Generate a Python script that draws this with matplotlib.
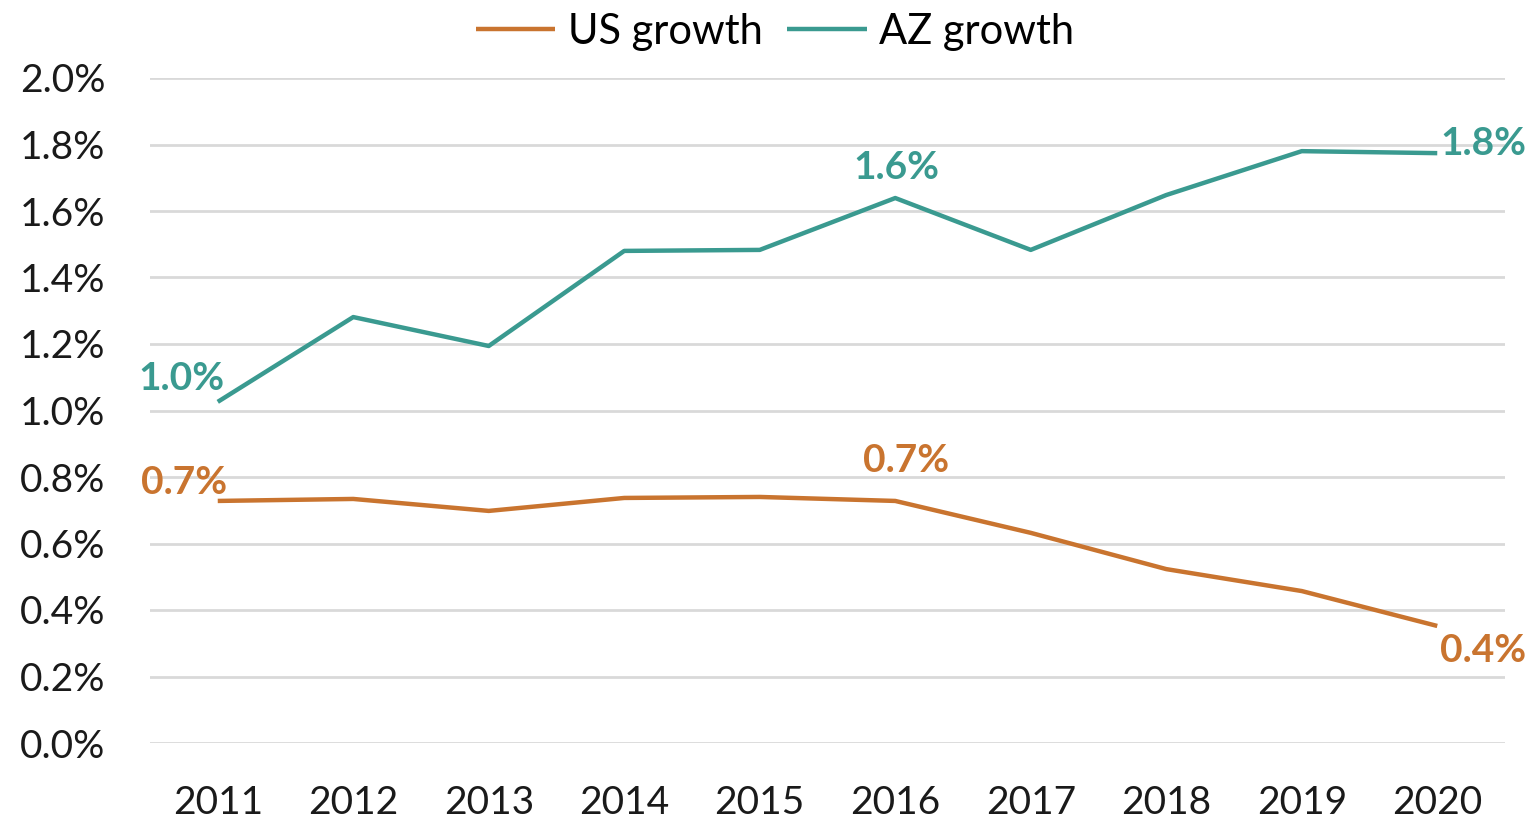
import matplotlib.pyplot as plt
import numpy as np

# data (percent)
years = ['2011', '2012', '2013', '2014', '2015', '2016', '2017', '2018', '2019', '2020']
us_growth = [0.728, 0.734, 0.698, 0.737, 0.740, 0.728, 0.632, 0.523, 0.457, 0.352]
az_growth = [1.026, 1.281, 1.194, 1.480, 1.483, 1.639, 1.483, 1.648, 1.780, 1.774]

us_color = '#C9742F'
az_color = '#3A9A90'

plt.rcParams['font.family'] = ['Lato', 'DejaVu Sans']

fig = plt.figure(figsize=(15.35, 8.23), dpi=100)
ax = fig.add_axes([150 / 1535, 80 / 823, (1505 - 150) / 1535, (743 - 78) / 823])

x = np.arange(len(years))
ax.plot(x, us_growth, color=us_color, lw=3.2, label='US growth', solid_capstyle='butt')
ax.plot(x, az_growth, color=az_color, lw=3.2, label='AZ growth', solid_capstyle='butt')

ax.set_xlim(-0.5, len(years) - 0.5)
ax.set_ylim(0, 2.0)
ax.set_yticks(np.arange(0, 2.01, 0.2))
ax.set_yticklabels(['%.1f%%' % v for v in np.arange(0, 2.01, 0.2)])
ax.set_xticks(x)
ax.set_xticklabels(years)
ax.tick_params(axis='both', length=0, labelsize=28, colors='#1a1a1a')
ax.tick_params(axis='y', pad=32)
ax.tick_params(axis='x', pad=30)
ax.grid(True, axis='y', color='#D9D9D9', lw=2)
ax.set_axisbelow(True)
for s in ax.spines.values():
    s.set_visible(False)

# data labels
lab = dict(fontsize=28, fontweight='bold', textcoords='offset points', va='center')
ax.annotate('%.1f%%' % az_growth[0], (x[0], az_growth[0]), xytext=(-26, 17), ha='center', color=az_color, **lab)
ax.annotate('%.1f%%' % az_growth[5], (x[5], az_growth[5]), xytext=(1, 22), ha='center', color=az_color, **lab)
ax.annotate('%.1f%%' % az_growth[9], (x[9], az_growth[9]), xytext=(2, 7), ha='left', color=az_color, **lab)
ax.annotate('%.1f%%' % us_growth[0], (x[0], us_growth[0]), xytext=(-24, 13), ha='center', color=us_color, **lab)
ax.annotate('%.1f%%' % us_growth[5], (x[5], us_growth[5]), xytext=(8, 29), ha='center', color=us_color, **lab)
ax.annotate('%.1f%%' % us_growth[9], (x[9], us_growth[9]), xytext=(2, -18), ha='left', color=us_color, **lab)

fig.legend(loc='upper center', bbox_to_anchor=(775 / 1535, 1.03), ncol=2, frameon=False,
           fontsize=30, handlelength=1.9, handletextpad=0.3, columnspacing=0.6)

fig.savefig('out.png', dpi=100)
